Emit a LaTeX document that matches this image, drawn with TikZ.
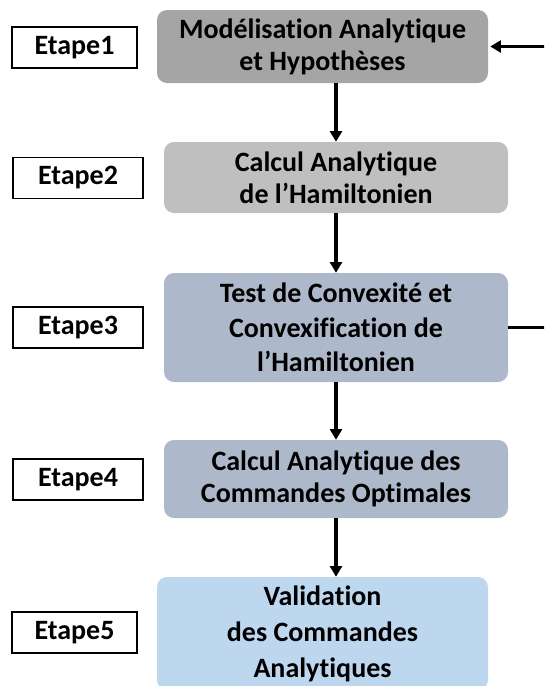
\documentclass[tikz,border=0pt]{standalone}
\usepackage{fontspec}
\setmainfont{Carlito}[Ligatures=CommonOff]
\usetikzlibrary{arrows.meta, positioning}

\begin{document}
\begin{tikzpicture}[x=0.75pt, y=-0.75pt]
    % Define colours
    \definecolor{stageOneColour}{HTML}{A5A5A5}
    \definecolor{stageTwoColour}{HTML}{BFBFBF}
    \definecolor{stageThreeColour}{HTML}{ADB9CA}
    \definecolor{stageFiveColour}{HTML}{BDD7EE}

    % Define styles
    \tikzset{
        stage/.style={rounded corners=7.5pt, align=center, inner sep=0pt,
            font=\bfseries\fontsize{21}{24}\selectfont},
        etapeBox/.style={draw=black, line width=1.2pt, inner sep=0pt,
            minimum height=30.75pt, font=\bfseries\fontsize{21}{24}\selectfont},
        flow/.style={line width=2.4pt, -{Triangle[length=8pt,width=9pt]}}
    }

    % Fix the frame
    \clip (0,0) rectangle (544,686);

    % Draw the stages
    \node[stage, fill=stageOneColour, minimum width=248.25pt, minimum height=54.75pt] (box1) at (322.5,46.5)
        {Modélisation Analytique\\et Hypothèses};
    \node[stage, fill=stageTwoColour, minimum width=258pt, minimum height=53.25pt] (box2) at (336,177.5)
        {Calcul Analytique\\de l’Hamiltonien};
    \node[stage, fill=stageThreeColour, minimum width=258pt, minimum height=81.75pt,
        font=\bfseries\fontsize{21}{26}\selectfont] (box3) at (336,327.5)
        {Test de Convexité et\\Convexification de\\l’Hamiltonien};
    \node[stage, fill=stageThreeColour, minimum width=258pt, minimum height=58.5pt] (box4) at (336,479)
        {Calcul Analytique des\\Commandes Optimales};
    \node[stage, fill=stageFiveColour, minimum width=248.25pt, minimum height=84.75pt,
        font=\bfseries\fontsize{21}{27}\selectfont] (box5) at (322.5,633.5)
        {Validation\\des Commandes\\Analytiques};

    % Draw the step labels
    \node[etapeBox, minimum width=93.75pt] (etape1) at (74.5,47.5) {Etape1};
    \node[etapeBox, minimum width=97.5pt] (etape2) at (78,178) {Etape2};
    \node[etapeBox, minimum width=97.5pt] (etape3) at (78,327.5) {Etape3};
    \node[etapeBox, minimum width=97.5pt] (etape4) at (78,479.5) {Etape4};
    \node[etapeBox, minimum width=93.75pt] (etape5) at (74.5,632.5) {Etape5};

    % Draw the flow between stages
    \draw[flow] (box1.south -| box2.north) -- (box2.north);
    \draw[flow] (box2.south) -- (box3.north);
    \draw[flow] (box3.south) -- (box4.north);
    \draw[flow] (box4.south) -- (box4.south |- box5.north);

    % Loop back from the convexity test to the modelling stage
    \draw[flow, shorten >=1.5pt] (box3.east) -- ++(60,0) |- (box1.east);

\end{tikzpicture}
\end{document}
